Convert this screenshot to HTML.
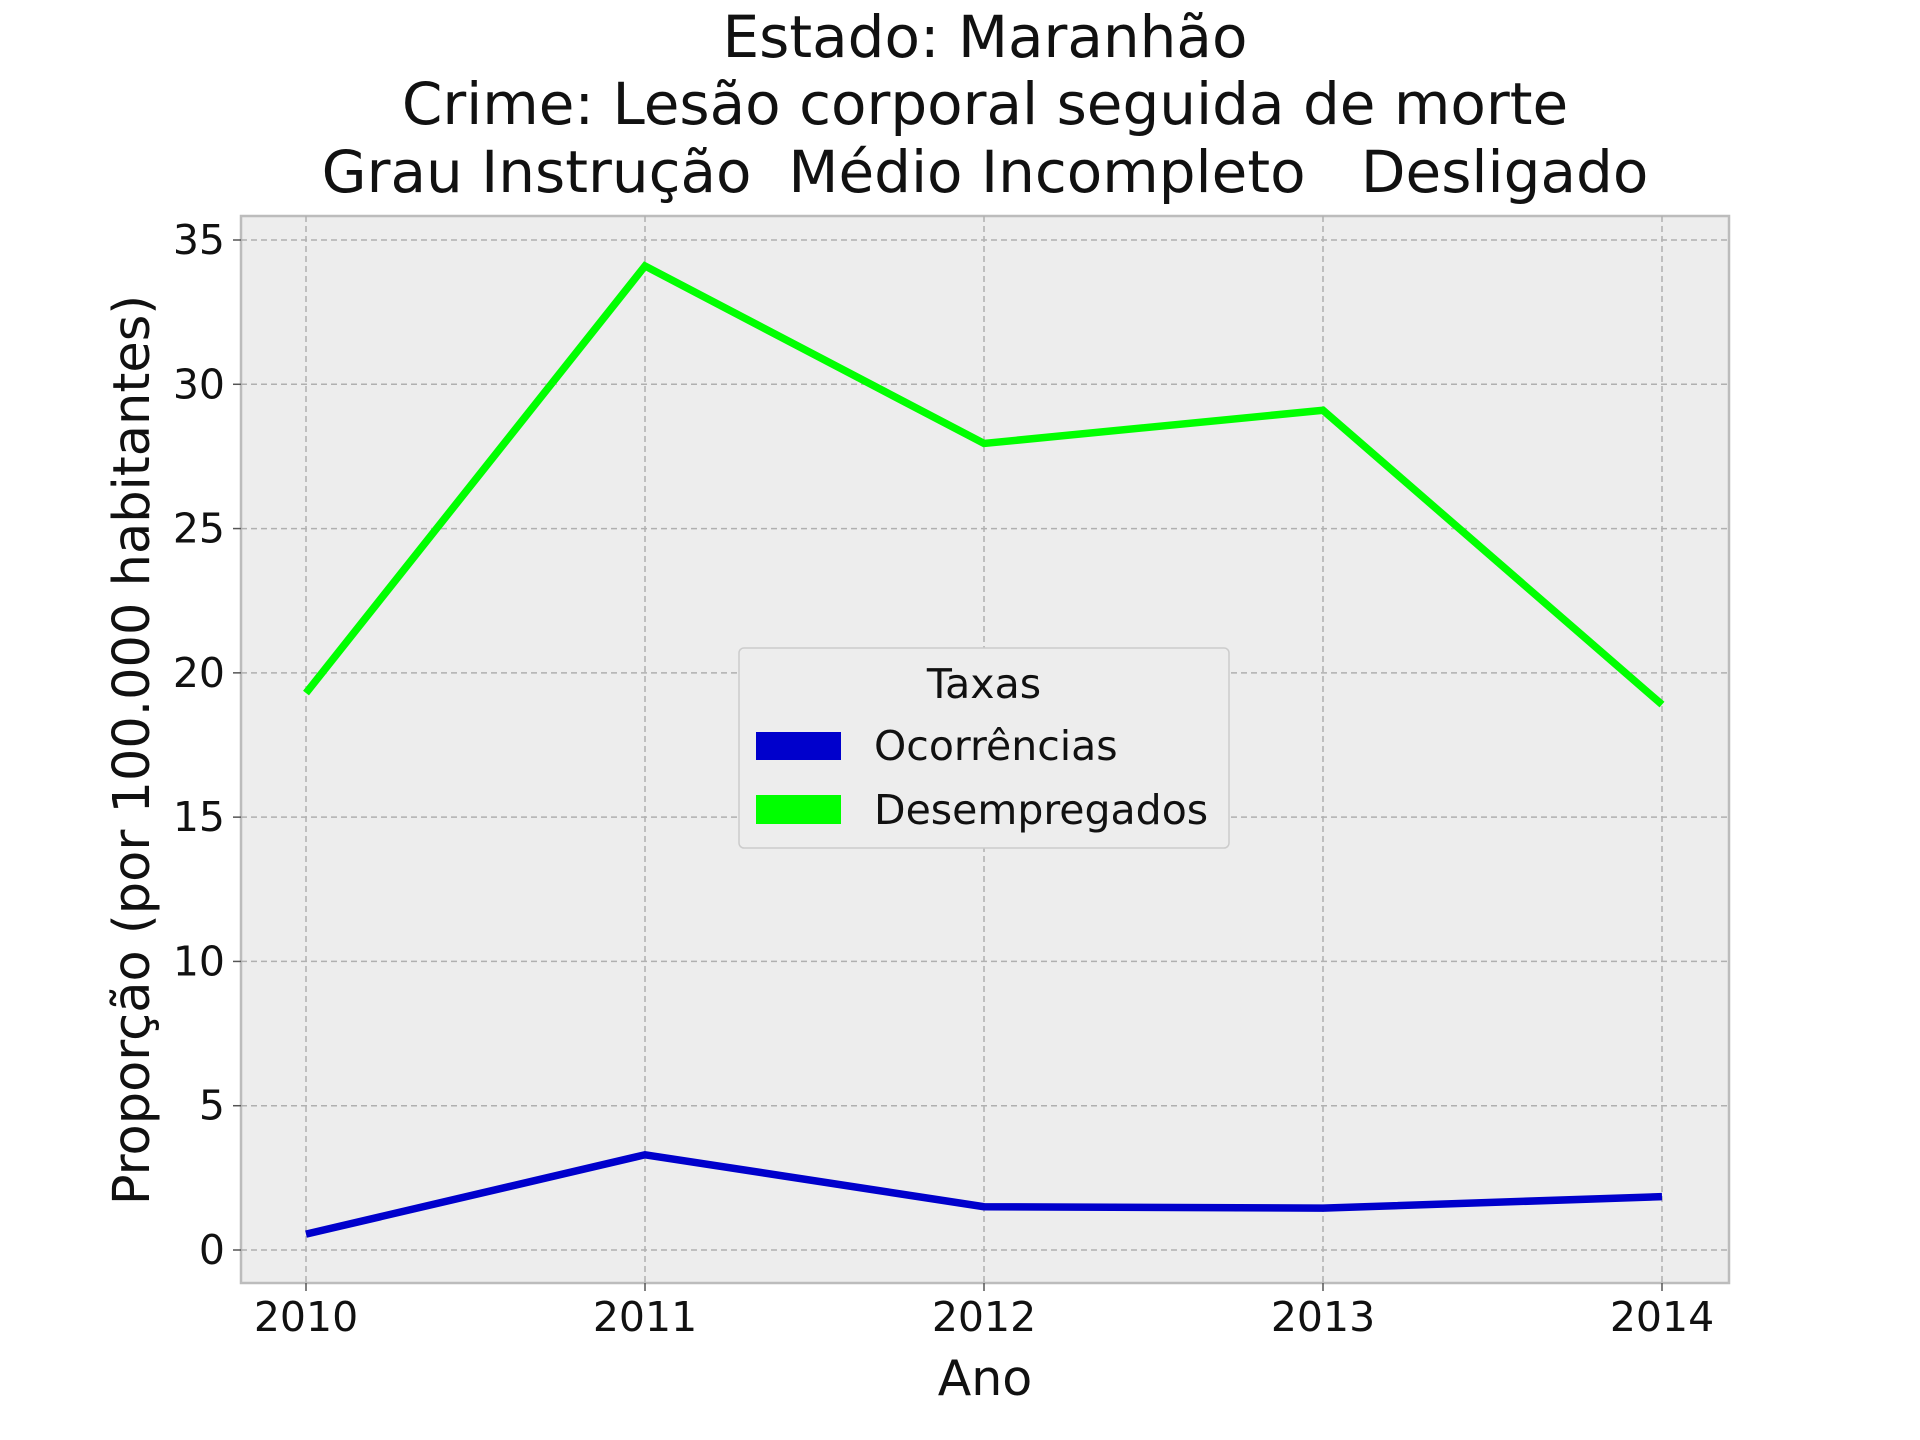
<!DOCTYPE html>
<html><head><meta charset="utf-8"><style>
html,body{margin:0;padding:0;background:#fff;}
svg{display:block;font-family:"DejaVu Sans","Liberation Sans",sans-serif;}
</style></head><body>
<svg id="chart" width="1920" height="1440" viewBox="0 0 1920 1440">
<g font-size="58" text-anchor="middle" fill="#111" style="white-space:pre">
<text x="985" y="57" xml:space="preserve">Estado: Maranhão</text>
<text x="985" y="124" xml:space="preserve">Crime: Lesão corporal seguida de morte</text>
<text x="985" y="192" xml:space="preserve">Grau Instrução  Médio Incompleto   Desligado</text>
</g>
<rect x="241" y="216" width="1488" height="1067" fill="#ededed" stroke="#bcbcbc" stroke-width="2.5"/>
<g id="grid"></g><g id="ticks"></g><g id="lines"></g>
<text x="985" y="1395" font-size="49" text-anchor="middle" fill="#111">Ano</text>
<text transform="translate(149,750) rotate(-90)" font-size="51" text-anchor="middle" fill="#111">Proporção (por 100.000 habitantes)</text>
<g>
<rect x="739" y="648" width="490" height="200" rx="5" fill="#ededed" stroke="#cccccc" stroke-width="1.5"/>
<text x="984" y="698" font-size="41" text-anchor="middle" fill="#111">Taxas</text>
<g><rect x="756" y="732" width="85" height="28" fill="#0000cc"/><text x="874" y="760" font-size="41" fill="#111">Ocorrências</text></g>
<g><rect x="756" y="795" width="85" height="29" fill="#00ff00"/><text x="874" y="824" font-size="41" fill="#111">Desempregados</text></g>
</g>
</svg>
<script>
const years=[2010,2011,2012,2013,2014];
const ocorrencias=[0.55,3.3,1.5,1.45,1.85];
const desempregados=[19.3,34.1,27.95,29.1,18.9];
const yTicks=[0,5,10,15,20,25,30,35];
const NS="http://www.w3.org/2000/svg";
const xs=v=>306+(v-2010)*(1662-306)/4;
const ys=v=>1250-v*(1250-240)/35;
function mk(t,a,p){const e=document.createElementNS(NS,t);for(const k in a)e.setAttribute(k,a[k]);p.appendChild(e);return e;}
const grid=document.getElementById('grid'),ticks=document.getElementById('ticks'),lines=document.getElementById('lines');
years.forEach(y=>{
 const g=mk('line',{x1:xs(y),x2:xs(y),y1:216,y2:1283,stroke:'#b0b0b0','stroke-width':1.5,'stroke-dasharray':'6,4'},grid);
 
 
 mk('line',{x1:xs(y),x2:xs(y),y1:1283,y2:1291,stroke:'#555','stroke-width':1.5},ticks);
 const t=mk('text',{x:xs(y),y:1331,'font-size':41,'text-anchor':'middle',fill:'#111'},ticks);
 t.textContent=y;
 
 
});
yTicks.forEach(v=>{
 const g=mk('line',{x1:241,x2:1729,y1:ys(v),y2:ys(v),stroke:'#b0b0b0','stroke-width':1.5,'stroke-dasharray':'6,4'},grid);
 
 
 mk('line',{x1:233,x2:241,y1:ys(v),y2:ys(v),stroke:'#555','stroke-width':1.5},ticks);
 const t=mk('text',{x:225,y:ys(v)+14,'font-size':41,'text-anchor':'end',fill:'#111'},ticks);
 t.textContent=v;
 
 
});
function series(vals,color,name){
 const p=mk('polyline',{points:vals.map((v,i)=>xs(years[i])+','+ys(v)).join(' '),fill:'none',stroke:color,'stroke-width':7.5,'stroke-linejoin':'miter'},lines);
 
 
}
series(desempregados,'#00ff00','desempregados-line');
series(ocorrencias,'#0000cc','ocorrencias-line');
</script>
</body></html>
